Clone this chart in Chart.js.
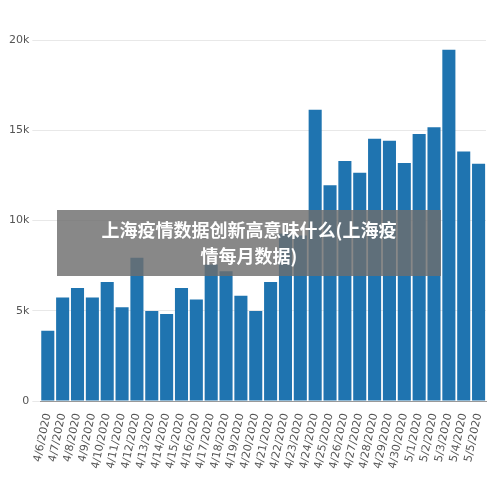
<!doctype html>
<html>
<head>
<meta charset="utf-8">
<script src="https://cdn.jsdelivr.net/npm/chart.js@4/dist/chart.umd.min.js"></script>
<style>
  body { margin: 0; background: #fff; }
  .wrap { position: relative; width: 500px; height: 487px; }
  .note {
    position: absolute; left: 57px; top: 210px; width: 384px; height: 66px;
    background: rgba(110,110,110,0.82); color: #fff; font: bold 18px "Noto Sans CJK SC", sans-serif;
    text-align: center; line-height: 26px; padding-top: 6px; box-sizing: border-box;
  }
</style>
</head>
<body>
<div class="wrap">
  <canvas id="canvas" width="500" height="487"></canvas>
  <div class="note">上海疫情数据创新高意味什么(上海疫<br>情每月数据)</div>
</div>
<script>
var dates = ['4/6/2020','4/7/2020','4/8/2020','4/9/2020','4/10/2020','4/11/2020','4/12/2020','4/13/2020',
  '4/14/2020','4/15/2020','4/16/2020','4/17/2020','4/18/2020','4/19/2020','4/20/2020','4/21/2020',
  '4/22/2020','4/23/2020','4/24/2020','4/25/2020','4/26/2020','4/27/2020','4/28/2020','4/29/2020',
  '4/30/2020','5/1/2020','5/2/2020','5/3/2020','5/4/2020','5/5/2020'];
var cases = [3900,5740,6270,5740,6600,5200,7940,4990,4830,6270,5630,7560,7190,5840,4990,6600,
  9280,9170,16140,11960,13300,12650,14530,14420,13190,14800,15170,19460,13830,13140];
var yTicks = [0,5000,10000,15000,20000];

new Chart(document.getElementById('canvas'), {
  type: 'bar',
  data: { labels: dates, datasets: [{ data: cases, backgroundColor: '#1f74b0', categoryPercentage: 0.88, barPercentage: 1 }] },
  options: {
    responsive: false, animation: false,
    layout: { padding: { top: 40, right: 14, left: 6, bottom: 14 } },
    plugins: { legend: { display: false }, tooltip: { enabled: false } },
    scales: {
      x: { grid: { display: false }, border: { color: '#999' },
        ticks: { color: '#555', font: { size: 11, family: 'DejaVu Sans' }, minRotation: 78, maxRotation: 78, autoSkip: false } },
      y: { min: 0, max: 20000, afterBuildTicks: function (s) { s.ticks = yTicks.map(function (v) { return { value: v }; }); },
        grid: { color: '#e8e8e8' }, border: { display: false },
        ticks: { color: '#555', font: { size: 11, family: 'DejaVu Sans' }, callback: function (v) { return v === 0 ? '0' : (v / 1000) + 'k'; } } }
    }
  }
});
</script>
</body>
</html>
